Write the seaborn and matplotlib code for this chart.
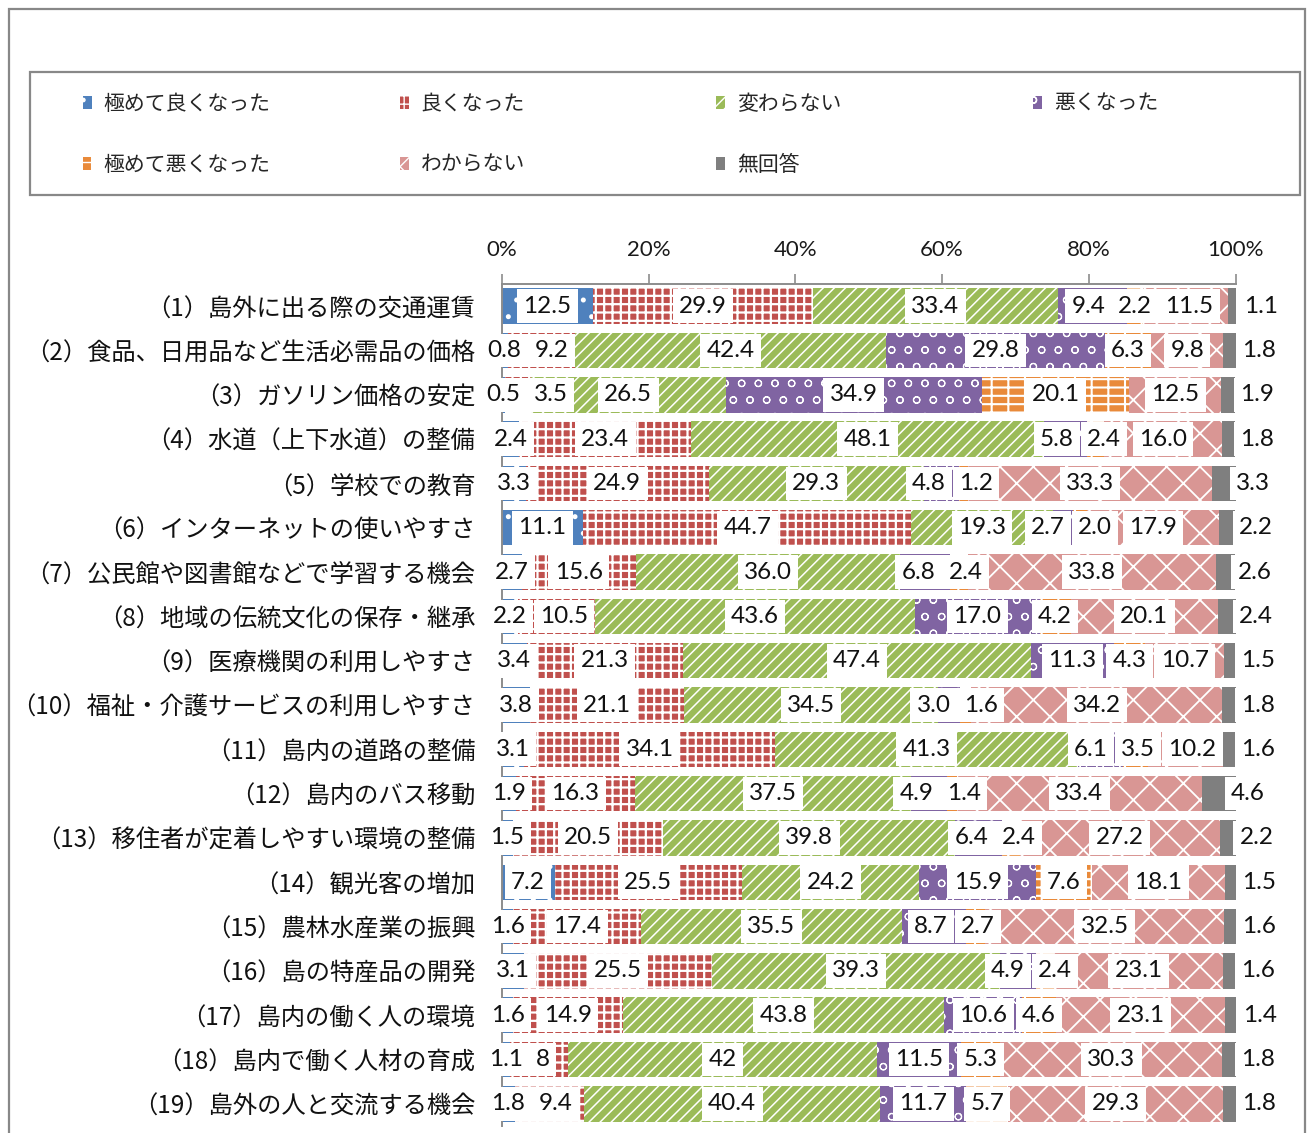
import numpy as np
import pandas as pd
import matplotlib
matplotlib.use("Agg")
import matplotlib.pyplot as plt
import seaborn as sns
from matplotlib.patches import Patch, Rectangle

categories = [
    "（1）島外に出る際の交通運賃",
    "（2）食品、日用品など生活必需品の価格",
    "（3）ガソリン価格の安定",
    "（4）水道（上下水道）の整備",
    "（5）学校での教育",
    "（6）インターネットの使いやすさ",
    "（7）公民館や図書館などで学習する機会",
    "（8）地域の伝統文化の保存・継承",
    "（9）医療機関の利用しやすさ",
    "（10）福祉・介護サービスの利用しやすさ",
    "（11）島内の道路の整備",
    "（12）島内のバス移動",
    "（13）移住者が定着しやすい環境の整備",
    "（14）観光客の増加",
    "（15）農林水産業の振興",
    "（16）島の特産品の開発",
    "（17）島内の働く人の環境",
    "（18）島内で働く人材の育成",
    "（19）島外の人と交流する機会",
]
series_names = ["極めて良くなった", "良くなった", "変わらない", "悪くなった",
                "極めて悪くなった", "わからない", "無回答"]

very_good = ["12.5", "0.8", "0.5", "2.4", "3.3", "11.1", "2.7", "2.2", "3.4", "3.8",
             "3.1", "1.9", "1.5", "7.2", "1.6", "3.1", "1.6", "1.1", "1.8"]
good = ["29.9", "9.2", "3.5", "23.4", "24.9", "44.7", "15.6", "10.5", "21.3", "21.1",
        "34.1", "16.3", "20.5", "25.5", "17.4", "25.5", "14.9", "8", "9.4"]
same = ["33.4", "42.4", "26.5", "48.1", "29.3", "19.3", "36.0", "43.6", "47.4", "34.5",
        "41.3", "37.5", "39.8", "24.2", "35.5", "39.3", "43.8", "42", "40.4"]
bad = ["9.4", "29.8", "34.9", "5.8", "4.8", "2.7", "6.8", "17.0", "11.3", "3.0",
       "6.1", "4.9", "6.4", "15.9", "8.7", "4.9", "10.6", "11.5", "11.7"]
very_bad = ["2.2", "6.3", "20.1", "2.4", "1.2", "2.0", "2.4", "4.2", "4.3", "1.6",
            "3.5", "1.4", "2.4", "7.6", "2.7", "2.4", "4.6", "5.3", "5.7"]
unknown = ["11.5", "9.8", "12.5", "16.0", "33.3", "17.9", "33.8", "20.1", "10.7", "34.2",
           "10.2", "33.4", "27.2", "18.1", "32.5", "23.1", "23.1", "30.3", "29.3"]
no_answer = ["1.1", "1.8", "1.9", "1.8", "3.3", "2.2", "2.6", "2.4", "1.5", "1.8",
             "1.6", "4.6", "2.2", "1.5", "1.6", "1.6", "1.4", "1.8", "1.8"]

x_ticks = [0, 20, 40, 60, 80, 100]
x_tick_labels = ["0%", "20%", "40%", "60%", "80%", "100%"]

colors = ["#4F81BD", "#C0504D", "#9BBB59", "#8064A2", "#E98A3A", "#D99694", "#7F7F7F"]
hatches = [".", "++", "///", "o", "--|", "x", None]
hatch_lw = [1.2, 1.6, 1.1, 0.8, 1.5, 1.3, 1.0]

label_cols = [very_good, good, same, bad, very_bad, unknown, no_answer]
vals = np.array([[float(v) for v in col] for col in label_cols]).T  # rows x series
cum = np.cumsum(vals, axis=1)
starts = cum - vals

sns.set_theme(style="white")
plt.rcParams["font.family"] = ["Noto Sans CJK JP", "DejaVu Sans"]

W, H = 1309, 1133
fig = plt.figure(figsize=(W / 100, H / 100), dpi=100)
ax_left, ax_right = 501.7 / W, 1235.7 / W
ax_top, ax_bot = 1 - 284 / H, 1 - 1126 / H
ax = fig.add_axes([ax_left, ax_bot, ax_right - ax_left, ax_top - ax_bot])

df = pd.DataFrame(cum, columns=series_names)
df["category"] = categories

for k in range(len(series_names) - 1, -1, -1):
    with plt.rc_context({"hatch.linewidth": hatch_lw[k]}):
        sns.barplot(data=df, x=series_names[k], y="category", orient="h",
                    color=colors[k], saturation=1, width=0.8, errorbar=None,
                    hatch=hatches[k], edgecolor="white", linewidth=0, ax=ax)

ax.set_xlim(0, 100)
ax.set_xlabel("")
ax.set_ylabel("")
ax.xaxis.tick_top()
ax.set_xticks(x_ticks)
ax.set_xticklabels(x_tick_labels, family=["Lato", "DejaVu Sans"], fontsize=16, color="#1a1a1a")
ax.tick_params(axis="x", which="major", direction="out", length=7, width=1.2,
               color="#8c8c8c", pad=10)
ax.tick_params(axis="y", which="major", length=0, pad=19, labelsize=17.5, labelcolor="#111111")
ax.set_yticks(np.arange(-0.5, len(categories), 1), minor=True)
ax.tick_params(axis="y", which="minor", direction="out", length=6, width=1.2, color="#8c8c8c")
for s in ["right", "bottom"]:
    ax.spines[s].set_visible(False)
for s in ["top", "left"]:
    ax.spines[s].set_color("#8c8c8c")
    ax.spines[s].set_linewidth(1.4)
ax.grid(False)

# data labels
bbox_kw = dict(boxstyle="square,pad=0.26", facecolor="white", edgecolor="none")
px_per_unit = ax.bbox.width / 100.0
last_offset = 29.0 / px_per_unit
texts = []
for i in range(len(categories)):
    row = []
    for k in range(len(series_names)):
        c = starts[i, k] + vals[i, k] / 2
        if k == len(series_names) - 1:
            c = c + last_offset
        t = ax.text(c, i, label_cols[k][i], ha="center", va="center", fontsize=17.5,
                    family=["Lato", "DejaVu Sans"], color="#111111", bbox=bbox_kw, zorder=5)
        row.append(t)
    texts.append(row)

fig.canvas.draw()
for i, row in enumerate(texts):
    pos = [t.get_position()[0] for t in row]
    wid = [t.get_bbox_patch().get_window_extent().width / px_per_unit for t in row]
    gap = 0.5 / px_per_unit
    n = len(row)
    for _ in range(300):
        moved = False
        for k in range(n - 1):
            need = (wid[k] + wid[k + 1]) / 2 + gap
            d = pos[k + 1] - pos[k]
            if d < need - 1e-6:
                ov = need - d
                moved = True
                if k == 0:
                    pos[k + 1] += ov
                elif k + 1 == n - 1:
                    pos[k] -= ov
                else:
                    pos[k] -= ov / 2
                    pos[k + 1] += ov / 2
        if not moved:
            break
    for t, p in zip(row, pos):
        t.set_x(p)

# legend
handles = []
for k in range(len(series_names)):
    with plt.rc_context({"hatch.linewidth": hatch_lw[k]}):
        handles.append(Patch(facecolor=colors[k], hatch=hatches[k], edgecolor="white",
                             linewidth=0, label=series_names[k]))
col_groups = [[0, 4], [1, 5], [2, 6], [3]]
col_x = [83, 400, 716, 1033]
for grp, xpx in zip(col_groups, col_x):
    fig.legend(handles=[handles[g] for g in grp], loc="upper left",
               bbox_to_anchor=(xpx / W, 1 - 93 / H), frameon=False,
               borderpad=0, borderaxespad=0, handlelength=0.45, handleheight=0.6,
               handletextpad=0.55, labelspacing=1.85, fontsize=15)

fig.patches.append(Rectangle((30 / W, 1 - 195 / H), (1300 - 30) / W, (195 - 72) / H,
                             transform=fig.transFigure, fill=False, edgecolor="#888888",
                             linewidth=1.6))
fig.patches.append(Rectangle((8.5 / W, -0.05), (1305 - 8.5) / W, 1.05 - 8.5 / H,
                             transform=fig.transFigure, fill=False, edgecolor="#888888",
                             linewidth=1.6))

fig.savefig("out.png", dpi=100)
